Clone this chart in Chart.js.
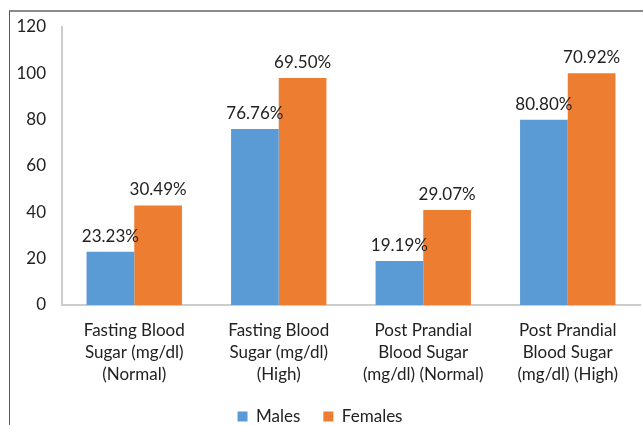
<!DOCTYPE html>
<html>
<head>
<meta charset="utf-8">
<script src="https://cdn.jsdelivr.net/npm/chart.js@4.4.0/dist/chart.umd.min.js"></script>
<style>
  body { margin: 0; background: #fff; }
  #wrap { position: relative; width: 643px; height: 425px; }
  #frame { position: absolute; left: 9px; top: 10px; right: 0; bottom: 0;
           border-top: 2px solid #8a8a8a; border-left: 1px solid #555; }
  canvas { position: absolute; left: 0; top: 0; }
</style>
</head>
<body>
<div id="wrap">
  <div id="frame"></div>
  <canvas id="chartSugar" width="643" height="425"></canvas>
</div>
<script>
var categorias = [
  ["Fasting Blood", "Sugar (mg/dl)", "(Normal)"],
  ["Fasting Blood", "Sugar (mg/dl)", "(High)"],
  ["Post Prandial", "Blood Sugar", "(mg/dl) (Normal)"],
  ["Post Prandial", "Blood Sugar", "(mg/dl) (High)"]
];
var hombres = [23, 76, 19, 80];
var mujeres = [43, 98, 41, 100];
var pctHombres = ["23.23%", "76.76%", "19.19%", "80.80%"];
var pctMujeres = ["30.49%", "69.50%", "29.07%", "70.92%"];
var ticksY = [0, 20, 40, 60, 80, 100, 120];

var fuente = "Lato, 'Open Sans', sans-serif";

// etiquetas de porcentaje encima de cada barra
var etiquetas = {
  id: 'etiquetas',
  afterDatasetsDraw: function(chart) {
    var ctx = chart.ctx;
    var textos = [pctHombres, pctMujeres];
    ctx.save();
    ctx.font = "17px " + fuente;
    ctx.fillStyle = "#222";
    ctx.textAlign = "center";
    ctx.textBaseline = "bottom";
    chart.data.datasets.forEach(function(ds, d) {
      chart.getDatasetMeta(d).data.forEach(function(bar, i) {
        ctx.fillText(textos[d][i], bar.x, bar.y - 7);
      });
    });
    ctx.restore();
  }
};

var ctx = document.getElementById('chartSugar').getContext('2d');
var grafico = new Chart(ctx, {
  type: 'bar',
  data: {
    labels: categorias,
    datasets: [
      { label: "Males", data: hombres, backgroundColor: '#5b9bd5' },
      { label: "Females", data: mujeres, backgroundColor: '#ed7d31' }
    ]
  },
  options: {
    responsive: false,
    animation: false,
    layout: { padding: { top: 27, right: 3, left: 0, bottom: 0 } },
    datasets: { bar: { categoryPercentage: 0.66, barPercentage: 1.0 } },
    plugins: {
      legend: {
        position: 'bottom',
        maxHeight: 40,
        labels: {
          font: { family: fuente, size: 17 },
          color: '#222',
          boxWidth: 10,
          boxHeight: 10,
          padding: 23
        }
      },
      tooltip: { enabled: false }
    },
    scales: {
      x: {
        grid: { display: false, drawTicks: false },
        border: { color: '#cccccc', width: 2 },
        ticks: {
          font: { family: fuente, size: 17, lineHeight: 1.3 },
          color: '#222',
          padding: 14,
          maxRotation: 0
        },
        afterFit: function(scale) { scale.height = 80; }
      },
      y: {
        min: 0,
        max: 120,
        afterBuildTicks: function(scale) {
          scale.ticks = ticksY.map(function(v) { return { value: v }; });
        },
        grid: { display: false, drawTicks: false },
        border: { color: '#cccccc', width: 2 },
        ticks: {
          font: { family: fuente, size: 17 },
          color: '#222',
          padding: 16
        },
        afterFit: function(scale) { scale.width = 62; }
      }
    }
  },
  plugins: [etiquetas]
});
</script>
</body>
</html>
